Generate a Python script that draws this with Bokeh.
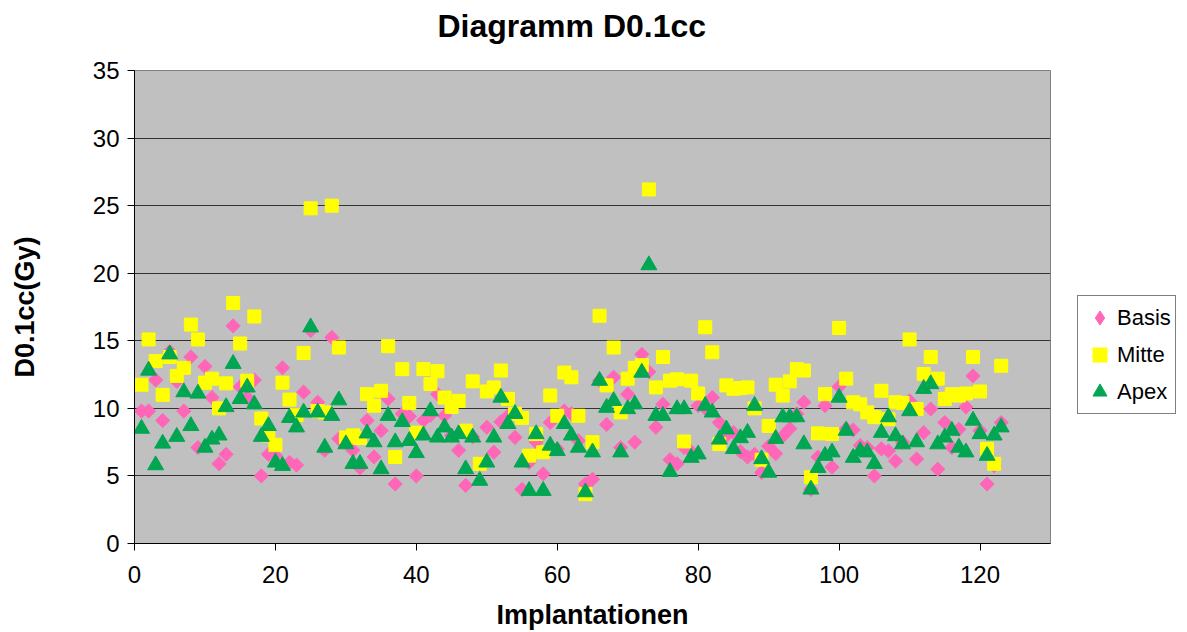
import math
from bokeh.plotting import figure
from bokeh.layouts import row
from bokeh.models import Legend, LegendItem, ColumnDataSource, FixedTicker, Title
from bokeh.embed import file_html
from bokeh.resources import INLINE

implantation = list(range(1, 124))

basis = [9.8, 9.8, 12.1, 9.1, 14.2, 12.0, 9.8, 13.8, 7.1, 13.1,
         10.8, 5.9, 6.6, 16.1, 11.6, 10.8, 12.1, 5.0, 6.6, 6.5,
         13.0, 6.0, 5.8, 11.2, 15.75, 10.45, 6.9, 15.25, 7.75, 7.5,
         6.9, 5.6, 9.1, 6.4, 8.35, 10.7, 4.4, 9.6, 9.4, 5.0,
         9.1, 9.5, 11.05, 9.45, 8.0, 6.9, 4.3, 7.9, 5.9, 8.6,
         6.75, 9.0, 9.45, 7.85, 4.0, 6.0, 7.5, 5.15, 8.95, 7.0,
         9.8, 9.6, 7.6, 4.4, 4.75, 12.05, 8.8, 12.3, 7.1, 11.05,
         7.5, 14.0, 12.7, 8.6, 10.3, 6.2, 5.9, 7.1, 6.8, 10.2,
         10.0, 10.8, 8.95, 8.0, 8.2, 6.8, 6.4, 6.6, 5.25, 7.2,
         6.65, 7.95, 8.5, 9.6, 10.45, 4.0, 6.4, 10.2, 5.65, 11.6,
         8.5, 8.4, 7.25, 7.1, 5.0, 7.0, 6.85, 6.1, 7.5, 10.55,
         6.25, 8.2, 9.95, 5.5, 8.95, 7.1, 8.45, 10.1, 12.4, 8.35,
         4.4, 5.75, 8.95]

mitte = [11.75, 15.1, 13.5, 11.0, 13.8, 12.4, 13.0, 16.2, 15.1, 11.9,
         12.2, 10.0, 11.85, 17.8, 14.8, 12.05, 16.8, 9.25, 8.0, 7.3,
         11.9, 10.65, 9.5, 14.1, 24.8, 9.8, 9.7, 25.0, 14.5, 7.85,
         8.0, 7.8, 11.05, 10.2, 11.3, 14.6, 6.4, 12.9, 10.4, 8.2,
         12.9, 11.8, 12.75, 10.8, 10.1, 10.55, 8.35, 12.0, 5.9, 11.25,
         11.55, 12.8, 10.7, 9.6, 9.3, 6.5, 8.1, 6.75, 10.95, 9.45,
         12.65, 12.3, 9.45, 3.65, 7.5, 16.85, 11.7, 14.5, 9.7, 12.2,
         13.0, 13.2, 26.2, 11.55, 13.8, 12.05, 12.15, 7.55, 12.05, 11.1,
         16.0, 14.15, 7.35, 11.7, 11.45, 11.5, 11.55, 10.0, 6.2, 8.7,
         11.75, 10.95, 12.0, 12.9, 12.8, 4.9, 8.15, 11.05, 8.1, 15.95,
         12.2, 10.45, 10.3, 9.7, 9.35, 11.3, 9.2, 10.45, 10.4, 15.1,
         9.95, 12.55, 13.8, 12.2, 10.7, 11.05, 10.95, 11.1, 13.8, 11.25,
         7.0, 5.9, 13.15]

apex = [8.5, 12.8, 5.8, 7.4, 14.0, 7.9, 11.2, 8.7, 11.1, 7.1,
        7.7, 8.0, 10.1, 13.3, 10.7, 11.55, 10.3, 7.9, 8.7, 6.0,
        5.75, 9.3, 8.6, 9.7, 16.0, 9.7, 7.1, 9.45, 10.6, 7.35,
        5.9, 5.9, 8.15, 7.5, 5.5, 9.45, 7.5, 9.0, 7.6, 6.7,
        8.0, 9.8, 7.85, 8.6, 7.85, 8.1, 5.5, 7.85, 4.65, 6.0,
        7.85, 10.8, 8.85, 9.6, 6.0, 3.9, 8.1, 3.9, 7.25, 6.85,
        8.85, 8.0, 7.1, 3.8, 6.75, 12.05, 10.05, 10.55, 6.75, 9.95,
        10.3, 12.65, 20.6, 9.45, 9.45, 5.3, 9.95, 9.95, 6.35, 6.6,
        10.2, 9.7, 7.7, 8.45, 7.0, 7.8, 8.2, 10.2, 6.25, 5.25,
        7.75, 9.35, 9.35, 9.35, 7.35, 4.0, 5.6, 6.5, 6.75, 10.8,
        8.35, 6.35, 6.85, 6.75, 5.9, 8.2, 9.35, 7.95, 7.35, 9.8,
        7.5, 11.45, 11.8, 7.35, 7.85, 8.35, 7.1, 6.75, 9.1, 8.1,
        6.5, 8.0, 8.6]

x_ticks = [0, 20, 40, 60, 80, 100, 120]
y_ticks = [0, 5, 10, 15, 20, 25, 30, 35]

FONT = "Liberation Sans"
PINK = "#FF66B8"
YELLOW = "#FFFF00"
GREEN = "#00A651"

p = figure(frame_width=916, frame_height=473, x_range=(0, 130), y_range=(0, 35),
           output_backend="svg", toolbar_location=None,
           min_border_left=134, min_border_right=2,
           min_border_top=70, min_border_bottom=87)

p.background_fill_color = "#C0C0C0"
p.border_fill_color = "white"
p.outline_line_color = "#808080"
p.outline_line_width = 1

# default title left empty; a blank spacer sits next to the frame and the
# real title is stacked above it
p.title.text = ""
spacer = Title(text=" ", text_font=FONT, text_font_size="10px", standoff=14)
p.add_layout(spacer, "above")
main_title = Title(text="Diagramm D0.1cc", text_font=FONT, text_font_size="32px",
                   text_font_style="bold", text_color="black", align="left",
                   offset=303, vertical_align="bottom", standoff=0)
p.add_layout(main_title, "above")

p.xgrid.visible = False
p.ygrid.grid_line_color = "#333333"
p.ygrid.grid_line_width = 1
p.ygrid.ticker = FixedTicker(ticks=y_ticks)

for ax in (p.xaxis, p.yaxis):
    ax.axis_line_color = "black"
    ax.major_tick_line_color = "black"
    ax.major_tick_out = 7
    ax.major_tick_in = 0
    ax.minor_tick_line_color = None
    ax.major_label_text_font = FONT
    ax.major_label_text_font_size = "24px"
    ax.major_label_text_color = "black"
    ax.axis_label_text_font = FONT
    ax.axis_label_text_font_size = "27px"
    ax.axis_label_text_font_style = "bold"
    ax.axis_label_text_color = "black"

p.xaxis.ticker = FixedTicker(ticks=x_ticks)
p.yaxis.ticker = FixedTicker(ticks=y_ticks)
p.xaxis.axis_label = "Implantationen"
p.yaxis.axis_label = "D0.1cc(Gy)"
p.xaxis.major_label_standoff = 15
p.yaxis.major_label_standoff = 8
p.xaxis.axis_label_standoff = 14
p.yaxis.axis_label_standoff = 50

src_b = ColumnDataSource(dict(x=implantation, y=basis))
src_m = ColumnDataSource(dict(x=implantation, y=mitte))
src_a = ColumnDataSource(dict(x=implantation, y=apex))

p.scatter("x", "y", source=src_b, marker="square", size=10, angle=math.pi / 4,
          fill_color=PINK, line_color=PINK)
p.scatter("x", "y", source=src_m, marker="square", size=13,
          fill_color=YELLOW, line_color=YELLOW)
p.scatter("x", "y", source=src_a, marker="triangle", size=16,
          fill_color=GREEN, line_color=GREEN)

# separate, axis-less panel that only holds the legend
lg = figure(width=133, height=630, x_range=(0, 1), y_range=(0, 1),
            output_backend="svg", toolbar_location=None,
            min_border_left=0, min_border_right=0,
            min_border_top=0, min_border_bottom=0)
lg.axis.visible = False
lg.grid.visible = False
lg.outline_line_color = None
lg.background_fill_color = "white"
lg.border_fill_color = "white"

proxy = dict(x=[-100], y=[-100])
lb = lg.scatter("x", "y", source=ColumnDataSource(proxy), marker="diamond",
                fill_color=PINK, line_color=PINK)
lm = lg.scatter("x", "y", source=ColumnDataSource(proxy), marker="square",
                fill_color=YELLOW, line_color=YELLOW)
la = lg.scatter("x", "y", source=ColumnDataSource(proxy), marker="triangle",
                fill_color=GREEN, line_color=GREEN)

legend = Legend(items=[LegendItem(label="Basis", renderers=[lb]),
                       LegendItem(label="Mitte", renderers=[lm]),
                       LegendItem(label="Apex", renderers=[la])],
                location=(25, 127))
legend.label_text_font = FONT
legend.label_text_font_size = "22px"
legend.label_text_color = "black"
legend.glyph_width = 35
legend.glyph_height = 35
legend.label_height = 22
legend.label_standoff = 0
legend.spacing = 2
legend.padding = 4
legend.margin = 0
legend.border_line_color = "black"
legend.border_line_width = 1
legend.background_fill_color = "white"
legend.background_fill_alpha = 1
lg.add_layout(legend, "center")

layout = row(p, lg, spacing=0)
open("out.html", "w").write(file_html(layout, INLINE))
